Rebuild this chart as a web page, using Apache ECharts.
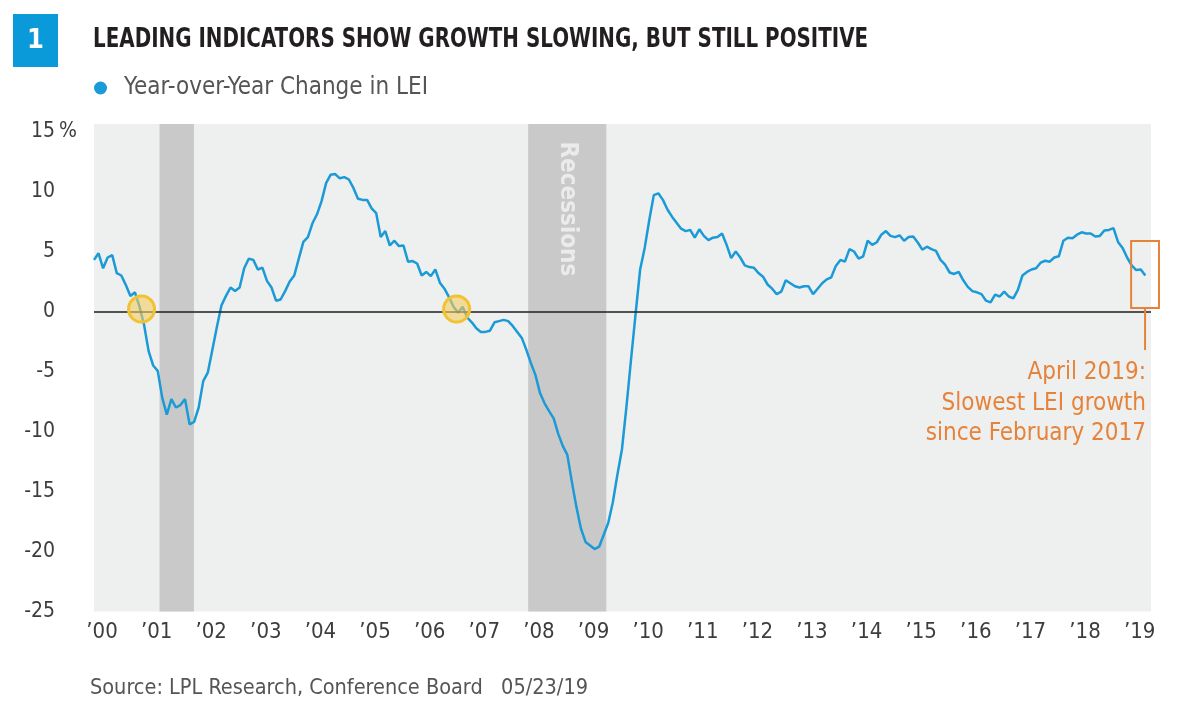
<!DOCTYPE html>
<html>
<head>
<meta charset="utf-8">
<script src="https://cdn.jsdelivr.net/npm/echarts@6/dist/echarts.min.js"></script>
<style>html,body{margin:0;padding:0;background:#fff;}#c{width:1179px;height:707px;}</style>
</head>
<body>
<div id="c"></div>
<script>
// ---- data ----
const startYear = 2000; // first month: Jan 2000, monthly observations
const lei = [
 4.3, 4.85, 3.6, 4.5, 4.7, 3.2, 3.0, 2.2, 1.3, 1.6, 0.4, -1.1,
 -3.3, -4.5, -4.95, -7.2, -8.6, -7.3, -8.0, -7.8, -7.3, -9.4, -9.2, -8.0,
 -5.8, -5.1, -3.2, -1.3, 0.5, 1.3, 2.0, 1.7, 2.0, 3.6, 4.4, 4.3,
 3.5, 3.65, 2.55, 2.0, 0.9, 1.0, 1.7, 2.5, 3.0, 4.4, 5.8, 6.2,
 7.35, 8.1, 9.2, 10.7, 11.4, 11.45, 11.1, 11.2, 11.0, 10.3, 9.4, 9.3,
 9.3, 8.6, 8.2, 6.2, 6.7, 5.5, 5.9, 5.45, 5.5, 4.15, 4.2, 4.0,
 3.0, 3.3, 2.95, 3.5, 2.4, 1.9, 1.2, 0.4, -0.1, 0.4, -0.5, -0.9,
 -1.4, -1.7, -1.7, -1.6, -0.9, -0.8, -0.7, -0.8, -1.2, -1.7, -2.2, -3.2,
 -4.3, -5.3, -6.8, -7.65, -8.3, -8.9, -10.2, -11.2, -11.95, -14.2, -16.3, -18.1,
 -19.2, -19.5, -19.8, -19.6, -18.6, -17.6, -15.9, -13.6, -11.5, -7.9, -4.0, -0.2,
 3.5, 5.3, 7.6, 9.7, 9.85, 9.3, 8.5, 7.9, 7.4, 6.9, 6.7, 6.8,
 6.15, 6.85, 6.3, 5.95, 6.15, 6.2, 6.5, 5.55, 4.45, 5.0, 4.5, 3.85,
 3.7, 3.65, 3.2, 2.9, 2.25, 1.9, 1.45, 1.65, 2.6, 2.35, 2.1, 2.0,
 2.1, 2.1, 1.45, 1.9, 2.35, 2.68, 2.85, 3.8, 4.3, 4.15, 5.2, 5.0,
 4.4, 4.6, 5.9, 5.55, 5.77, 6.4, 6.7, 6.3, 6.2, 6.35, 5.9, 6.2,
 6.25, 5.75, 5.15, 5.4, 5.2, 5.05, 4.3, 3.9, 3.25, 3.13, 3.3, 2.6,
 2.05, 1.7, 1.6, 1.45, 0.9, 0.76, 1.4, 1.25, 1.65, 1.25, 1.1, 1.8,
 3.0, 3.3, 3.5, 3.6, 4.07, 4.23, 4.15, 4.5, 4.6, 5.9, 6.15, 6.1,
 6.4, 6.6, 6.5, 6.5, 6.25, 6.3, 6.75, 6.8, 6.95, 5.8, 5.3, 4.5,
 3.85, 3.45, 3.5, 3.0
];
const xTickLabels = ['\u201900','\u201901','\u201902','\u201903','\u201904','\u201905','\u201906','\u201907','\u201908','\u201909',
  '\u201910','\u201911','\u201912','\u201913','\u201914','\u201915','\u201916','\u201917','\u201918','\u201919'];
const yTicks = [-25, -20, -15, -10, -5, 0, 5, 10, 15];
const recessions = [[2001.2, 2001.83], [2007.95, 2009.38]];
const recessionLabel = 'Recessions';
const zeroCrossings = [[2000.87, 0.2], [2006.64, 0.2]];
const calloutBox = [[2018.99, 5.875], [2019.5, 0.29]];
const calloutText = ['April 2019:', 'Slowest LEI growth', 'since February 2017'];
const titleText = 'LEADING INDICATORS SHOW GROWTH SLOWING, BUT STILL POSITIVE';
const seriesName = 'Year-over-Year Change in LEI';
const sourceText = 'Source: LPL Research, Conference Board   05/23/19';

// ---- chart ----
const FF = "'Liberation Sans Narrow', 'DejaVu Sans Condensed', 'Roboto Condensed', 'Liberation Sans', sans-serif";
const BLUE = '#1a9ad6';
const ORANGE = '#e5833a';
const seriesData = lei.map((v, i) => [startYear + i / 12, v]);

const chart = echarts.init(document.getElementById('c'), null, {renderer: 'canvas'});
chart.setOption({
  animation: false,
  backgroundColor: '#ffffff',
  textStyle: {fontFamily: FF},
  legend: {
    data: [{name: seriesName, icon: 'circle'}],
    left: 94, top: 76, padding: 0,
    itemWidth: 13, itemHeight: 13,
    selectedMode: false,
    textStyle: {fontFamily: FF, fontSize: 24, color: '#555555', padding: [0, 0, 0, 12]}
  },
  grid: {left: 94, right: 28, top: 124, bottom: 95.5, show: true, backgroundColor: '#eeefef', borderWidth: 0},
  xAxis: {
    type: 'value', min: 2000, max: 2019.354, interval: 1,
    axisLine: {show: false}, axisTick: {show: false}, splitLine: {show: false},
    axisLabel: {
      fontFamily: FF, fontSize: 22, color: '#3d3d3d', margin: 10, padding: [0, 0, 0, 16],
      showMaxLabel: false,
      formatter: v => { const k = Math.round(v - startYear); return (Math.abs(v - startYear - k) < 1e-6 && xTickLabels[k]) ? xTickLabels[k] : ''; }
    }
  },
  yAxis: {
    type: 'value', min: -25, max: 15.625, interval: 5,
    axisLine: {show: false}, axisTick: {show: false}, splitLine: {show: false},
    axisLabel: {
      fontFamily: FF, fontSize: 21, color: '#3d3d3d', margin: 39,
      formatter: v => (yTicks.indexOf(v) >= 0 ? String(v) : '')
    }
  },
  series: [{
    name: seriesName,
    type: 'line',
    data: seriesData,
    showSymbol: false,
    color: BLUE,
    lineStyle: {color: BLUE, width: 2.5},
    z: 3,
    markArea: {
      silent: true,
      itemStyle: {color: '#c9c9c9'},
      data: recessions.map(r => [{xAxis: r[0]}, {xAxis: r[1]}])
    },
    markLine: {
      silent: true, symbol: 'none', label: {show: false},
      lineStyle: {color: '#1e1e1e', width: 1.5, type: 'solid'},
      data: [{yAxis: 0}]
    },
    markPoint: {
      silent: true,
      symbol: 'circle', symbolSize: 26,
      label: {show: false},
      itemStyle: {color: 'rgba(245, 205, 95, 0.6)', borderColor: '#f1c232', borderWidth: 3},
      data: zeroCrossings.map(p => ({coord: p}))
    }
  }]
});

function px(pt) { return chart.convertToPixel({gridIndex: 0}, pt); }
const p15 = px([startYear, 15]);
const b0 = px(calloutBox[0]);
const b1 = px(calloutBox[1]);
const rc = px([(recessions[1][0] + recessions[1][1]) / 2, 8.55]);
const boxCx = (b0[0] + b1[0]) / 2;
const textRight = 1146;

const graphics = [
  {type: 'rect', left: 13, top: 14, shape: {width: 45, height: 53}, style: {fill: '#0a9ad9'}},
  {type: 'text', x: 35.5, y: 41, style: {text: '1', fill: '#ffffff', font: 'bold 27px ' + FF, align: 'center', verticalAlign: 'middle'}},
  {type: 'text', x: 93, y: 40, scaleX: 0.85, style: {text: titleText, fill: '#231f20', font: 'bold 26px ' + FF, align: 'left', verticalAlign: 'middle'}},
  {type: 'text', x: 59, y: p15[1], style: {text: '%', fill: '#3d3d3d', font: '21px ' + FF, align: 'left', verticalAlign: 'middle'}},
  {type: 'text', x: rc[0], y: rc[1], rotation: -Math.PI / 2, z: 1,
    style: {text: recessionLabel, fill: '#ebebeb', font: 'bold 24px ' + FF, align: 'center', verticalAlign: 'middle'}},
  {type: 'rect', z: 10, shape: {x: b0[0], y: b0[1], width: b1[0] - b0[0], height: b1[1] - b0[1]},
    style: {fill: 'none', stroke: ORANGE, lineWidth: 2}},
  {type: 'line', z: 10, shape: {x1: boxCx, y1: b1[1], x2: boxCx, y2: b1[1] + 42}, style: {stroke: ORANGE, lineWidth: 2}},
  {type: 'text', x: 90, y: 688, style: {text: sourceText, fill: '#555555', font: '21.5px ' + FF, align: 'left', verticalAlign: 'middle'}}
];
calloutText.forEach((t, k) => {
  graphics.push({type: 'text', z: 10, x: textRight, y: 373 + k * 30.5,
    style: {text: t, fill: ORANGE, font: '24px ' + FF, align: 'right', verticalAlign: 'middle'}});
});
chart.setOption({graphic: graphics});
</script>
</body>
</html>
